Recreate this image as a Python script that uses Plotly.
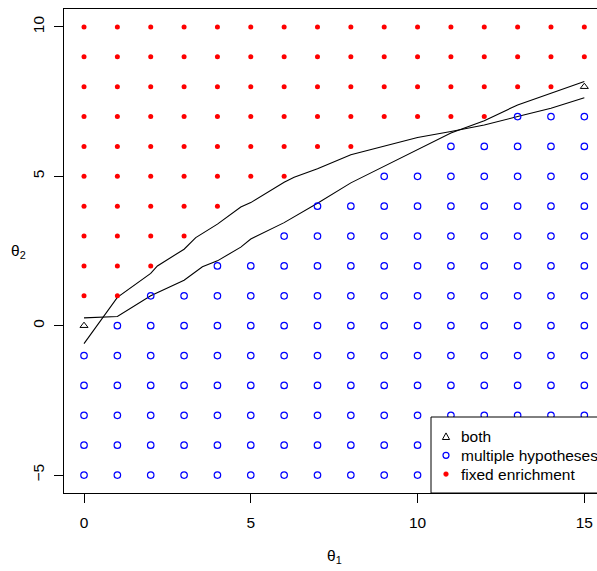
import plotly.graph_objects as go

# grid
theta1_values = list(range(0, 16))
theta2_values = list(range(-5, 11))

# per theta2 row: last theta1 flagged "fixed enrichment" (None = none)
fixed_last_theta1 = [None, None, None, None, None, None, 1, 2, 3, 4, 6, 8, 12, 14, 15, 15]
# per theta2 row: first theta1 flagged "multiple hypotheses" (None = none)
multi_first_theta1 = [0, 0, 0, 0, 0, 1, 2, 4, 6, 7, 9, 11, 13, None, None, None]
# points flagged by both
both_theta1 = [0, 15]
both_theta2 = [0, 8]

# boundary curves
lineA_theta1 = [0, 1, 2, 2.2, 3, 3.35, 4, 4.7, 5, 6, 6.3, 7, 8, 9, 10, 11, 12, 13, 14, 15]
lineA_theta2 = [-0.6, 0.95, 1.75, 2.0, 2.56, 2.95, 3.4, 3.97, 4.12, 4.8, 4.97, 5.25, 5.72, 6.02, 6.3, 6.5, 6.72, 7.0, 7.28, 7.63]
lineB_theta1 = [0, 1, 2, 3, 3.55, 4, 4.7, 5, 6, 6.8, 7, 8, 9, 10, 11, 12, 13, 14, 15]
lineB_theta2 = [0.26, 0.31, 1.0, 1.52, 1.97, 2.17, 2.63, 2.9, 3.45, 3.97, 4.1, 4.78, 5.33, 5.89, 6.45, 6.86, 7.39, 7.78, 8.17]

legend_labels = ["both", "multiple hypotheses", "fixed enrichment"]

fx, fy, mx, my = [], [], [], []
for t2, flast, mfirst in zip(theta2_values, fixed_last_theta1, multi_first_theta1):
    for t1 in theta1_values:
        if any(t1 == b1 and t2 == b2 for b1, b2 in zip(both_theta1, both_theta2)):
            continue
        if flast is not None and t1 <= flast:
            fx.append(t1); fy.append(t2)
        elif mfirst is not None and t1 >= mfirst:
            mx.append(t1); my.append(t2)

fig = go.Figure()
fig.add_trace(go.Scatter(x=lineA_theta1, y=lineA_theta2, mode="lines",
                         line=dict(color="black", width=1.1), showlegend=False))
fig.add_trace(go.Scatter(x=lineB_theta1, y=lineB_theta2, mode="lines",
                         line=dict(color="black", width=1.1), showlegend=False))
fig.add_trace(go.Scatter(x=both_theta1, y=both_theta2, mode="markers", name=legend_labels[0],
                         marker=dict(symbol="triangle-up-open", size=7, color="black",
                                     line=dict(width=1))))
fig.add_trace(go.Scatter(x=mx, y=my, mode="markers", name=legend_labels[1],
                         marker=dict(symbol="circle-open", size=6.5, color="#0000FF",
                                     line=dict(width=1.2))))
fig.add_trace(go.Scatter(x=fx, y=fy, mode="markers", name=legend_labels[2],
                         marker=dict(symbol="circle", size=5, color="#FF0000")))

# ---- legend drawn as a box in paper coordinates (R-style legend) ----
L, T, B = 64, 9, 78
W, H = 597, 571
pw, ph = W - L, H - T - B
def px_x(p):  # pixel -> paper x
    return (p - L) / pw
def px_y(p):  # pixel -> paper y
    return (H - B - p) / ph

leg_left, leg_top = 431, 417
row_centers = [436.5, 455.3, 474.1]
sym_x = px_x(446)
shapes = [dict(type="rect", xref="paper", yref="paper",
               x0=px_x(leg_left), x1=1.2, y0=0, y1=px_y(leg_top),
               fillcolor="white", line=dict(color="black", width=1), layer="above")]
# triangle (open)
shapes.append(dict(type="path", xref="paper", yref="paper", xsizemode="pixel", ysizemode="pixel",
                   xanchor=sym_x, yanchor=px_y(row_centers[0]),
                   path="M -3.6,-3 L 3.6,-3 L 0,3.6 Z",
                   line=dict(color="black", width=1), fillcolor="rgba(0,0,0,0)", layer="above"))
# open blue circle
shapes.append(dict(type="circle", xref="paper", yref="paper", xsizemode="pixel", ysizemode="pixel",
                   xanchor=sym_x, yanchor=px_y(row_centers[1]),
                   x0=-3, x1=3, y0=-3, y1=3,
                   line=dict(color="#0000FF", width=1.2), fillcolor="rgba(0,0,0,0)", layer="above"))
# filled red dot
shapes.append(dict(type="circle", xref="paper", yref="paper", xsizemode="pixel", ysizemode="pixel",
                   xanchor=sym_x, yanchor=px_y(row_centers[2]),
                   x0=-2.4, x1=2.4, y0=-2.4, y1=2.4,
                   line=dict(color="#FF0000", width=0.5), fillcolor="#FF0000", layer="above"))

annotations = [
    dict(text="θ<sub>2</sub>", xref="paper", yref="paper", x=px_x(18), y=0.5,
         showarrow=False, xanchor="center", yanchor="middle", font=dict(size=15.5)),
    dict(text="θ<sub>1</sub>", xref="paper", yref="paper", x=px_x(334), y=-0.132,
         showarrow=False, xanchor="center", yanchor="middle", font=dict(size=15.5)),
]
for lab, yc in zip(legend_labels, row_centers):
    annotations.append(dict(text=lab, xref="paper", yref="paper", x=px_x(458.5), y=px_y(yc),
                            showarrow=False, xanchor="left", yanchor="middle",
                            font=dict(size=15.5)))

font_family = "Liberation Sans, Arial, sans-serif"
fig.update_layout(
    width=W, height=H,
    margin=dict(l=L, r=0, t=T, b=B, autoexpand=False),
    plot_bgcolor="white", paper_bgcolor="white",
    font=dict(family=font_family, size=15, color="black"),
    xaxis=dict(range=[-0.6, 15.38], tickvals=[0, 5, 10, 15], showgrid=False, zeroline=False,
               showline=True, mirror=True, linecolor="black", linewidth=1,
               ticks="outside", ticklen=9, tickcolor="black", tickwidth=1,
               ticklabelstandoff=6, tickfont=dict(size=15.5), automargin=False),
    yaxis=dict(range=[-5.6, 10.6], tickvals=[-5, 0, 5, 10], showgrid=False, zeroline=False,
               showline=True, mirror=False, linecolor="black", linewidth=1,
               ticks="outside", ticklen=9, tickcolor="black", tickwidth=1,
               tickangle=-90, ticklabelstandoff=4, tickfont=dict(size=15.5), automargin=False),
    showlegend=False,
    shapes=shapes,
    annotations=annotations,
)

fig.write_html("out.html")
